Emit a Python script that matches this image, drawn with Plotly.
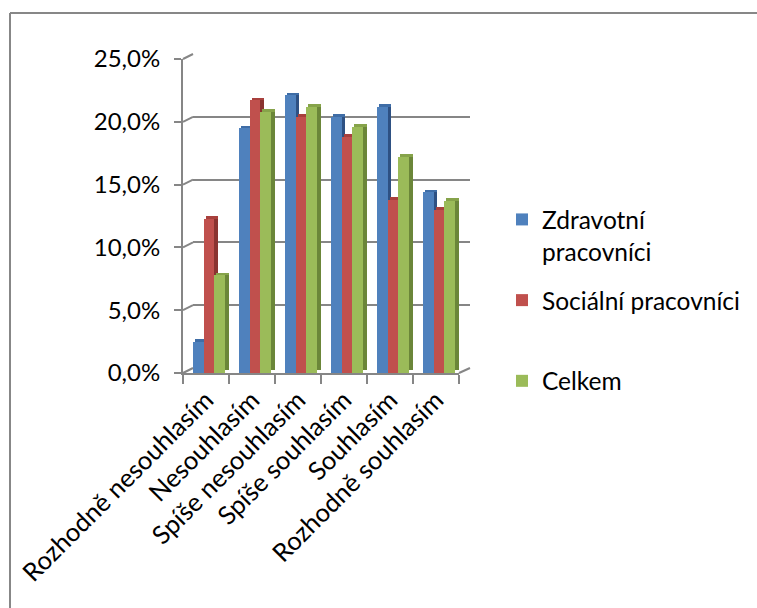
import plotly.graph_objects as go

# Survey answers (x axis) and share of respondents per group, in percent
categories = ["Rozhodně nesouhlasím", "Nesouhlasím", "Spíše nesouhlasím",
              "Spíše souhlasím", "Souhlasím", "Rozhodně souhlasím"]
series_names = ["Zdravotní<br>pracovníci", "Sociální pracovníci<br>\u00a0", "Celkem"]
zdravotni = [2.5, 19.5, 22.1, 20.4, 21.2, 14.4]
socialni = [12.3, 21.7, 20.4, 18.8, 13.8, 13.0]
celkem = [7.8, 20.8, 21.2, 19.6, 17.2, 13.7]
tick_values = [0, 5, 10, 15, 20, 25]
tick_labels = ["0,0%", "5,0%", "10,0%", "15,0%", "20,0%", "25,0%"]

W, H = 757, 608
FONT = "Lato"
GRID = "#868686"

front_colors = ["#4F81BD", "#C0504D", "#9BBB59"]
side_colors = ["#2E5183", "#8A3330", "#6B8639"]
top_colors = ["#3F6DA6", "#A8403D", "#86A34A"]

# pixel helpers -> paper fractions
px = lambda x: x / W
py = lambda y: 1 - y / H

front_x = [px(183), px(459)]
front_y = [py(373), py(59)]
back_x = [px(193), px(470)]
back_y = [py(368), py(54)]

bar_w = 0.232
side_w = 0.08
lift = 0.2
start = -0.5 + 10 / 46

fig = go.Figure()

# empty trace so the back-wall subplot (gridlines) is created
fig.add_trace(go.Scatter(x=[], y=[], xaxis="x", yaxis="y",
                         showlegend=False, hoverinfo="skip"))

all_series = [zdravotni, socialni, celkem]
for i, vals in enumerate(all_series):
    off = start + i * bar_w
    # right-hand side face of each column
    fig.add_trace(go.Bar(
        x=categories, y=vals, base=[lift] * len(vals),
        offset=off + bar_w, width=side_w,
        marker=dict(color=side_colors[i], line=dict(width=0)),
        xaxis="x2", yaxis="y2", showlegend=False, hoverinfo="skip"))
    # top face of each column
    fig.add_trace(go.Bar(
        x=categories, y=[lift] * len(vals), base=vals,
        offset=off + side_w / 2, width=bar_w + side_w / 2,
        marker=dict(color=top_colors[i], line=dict(width=0)),
        xaxis="x2", yaxis="y2", showlegend=False, hoverinfo="skip"))
    # front face
    fig.add_trace(go.Bar(
        x=categories, y=vals, offset=off, width=bar_w,
        name=series_names[i], legendgroup=str(i),
        marker=dict(color=front_colors[i], line=dict(width=0)),
        xaxis="x2", yaxis="y2"))

shapes = []
# left wall: connect front tick to back gridline
for v in tick_values:
    yf = front_y[0] + v / 25 * (front_y[1] - front_y[0])
    yb = back_y[0] + v / 25 * (back_y[1] - back_y[0])
    shapes.append(dict(type="line", xref="paper", yref="paper",
                       x0=front_x[0], y0=yf, x1=back_x[0], y1=yb,
                       line=dict(color=GRID, width=2)))
# right edge of the floor
shapes.append(dict(type="line", xref="paper", yref="paper",
                   x0=front_x[1], y0=front_y[0], x1=back_x[1], y1=back_y[0],
                   line=dict(color=GRID, width=2)))
# chart frame: top and left edges, running well past the page
shapes.append(dict(type="line", xref="paper", yref="paper",
                   x0=px(10), y0=py(13), x1=1.3, y1=py(13),
                   line=dict(color="#878787", width=2), layer="below"))
shapes.append(dict(type="line", xref="paper", yref="paper",
                   x0=px(10), y0=py(13), x1=px(10), y1=-0.3,
                   line=dict(color="#878787", width=2), layer="below"))

fig.update_layout(
    width=W, height=H,
    margin=dict(l=0, r=0, t=0, b=0),
    paper_bgcolor="white", plot_bgcolor="rgba(0,0,0,0)",
    barmode="overlay", bargap=0,
    font=dict(family=FONT, size=24, color="black"),
    showlegend=True,
    legend=dict(x=px(502), y=py(197), xanchor="left", yanchor="top",
                valign="top", tracegroupgap=14, itemwidth=30,
                font=dict(family=FONT, size=24.5, color="black"),
                bgcolor="rgba(0,0,0,0)"),
    xaxis=dict(domain=back_x, anchor="y", range=[0, 1], visible=False),
    yaxis=dict(domain=back_y, anchor="x", range=[0, 25],
               tickvals=tick_values, showticklabels=False, ticks="",
               showgrid=True, gridcolor=GRID, gridwidth=2,
               zeroline=False, showline=False),
    xaxis2=dict(domain=front_x, anchor="y2", type="category",
                categoryorder="array", categoryarray=categories,
                range=[-0.5, 5.5], showline=True, linecolor=GRID, linewidth=2,
                ticks="outside", tickson="boundaries", ticklen=9,
                tickcolor=GRID, tickwidth=2, tickangle=-45,
                showgrid=False, zeroline=False, automargin=False,
                tickfont=dict(family=FONT, size=25.5)),
    yaxis2=dict(domain=front_y, anchor="x2", range=[0, 25],
                tickvals=tick_values, ticktext=tick_labels,
                showline=True, linecolor=GRID, linewidth=2,
                ticks="outside", ticklen=7, tickcolor=GRID, tickwidth=2,
                ticklabelstandoff=9,
                showgrid=False, zeroline=False, automargin=False,
                tickfont=dict(family=FONT, size=24)),
    shapes=shapes,
)

fig.write_html("out.html", config={"displayModeBar": False})
